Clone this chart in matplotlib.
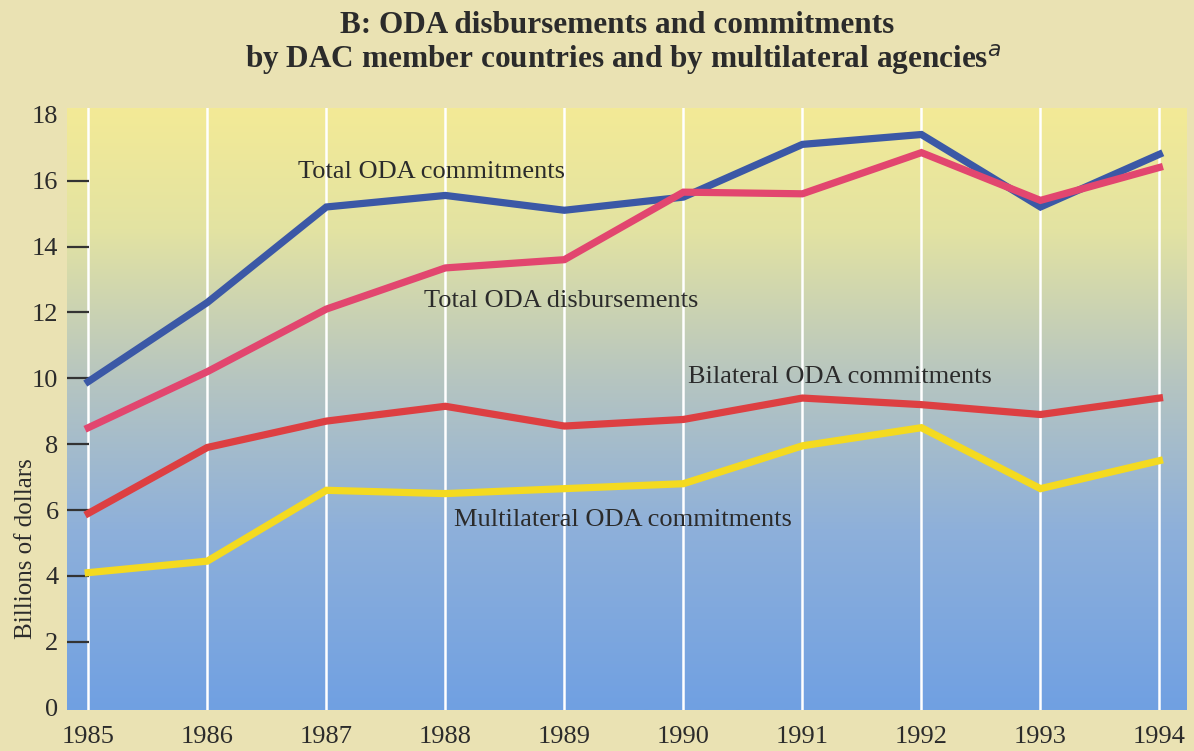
import numpy as np
import matplotlib
matplotlib.use("Agg")
import matplotlib.pyplot as plt
from matplotlib.colors import LinearSegmentedColormap

years = [1985, 1986, 1987, 1988, 1989, 1990, 1991, 1992, 1993, 1994]
total_commit = [9.9, 12.3, 15.2, 15.55, 15.1, 15.5, 17.1, 17.4, 15.2, 16.8]
total_disb = [8.5, 10.2, 12.1, 13.35, 13.6, 15.65, 15.6, 16.85, 15.4, 16.4]
bilateral = [5.9, 7.9, 8.7, 9.15, 8.55, 8.75, 9.4, 9.2, 8.9, 9.4]
multilateral = [4.1, 4.45, 6.6, 6.5, 6.65, 6.8, 7.95, 8.5, 6.65, 7.5]
yticks = [0, 2, 4, 6, 8, 10, 12, 14, 16, 18]

plt.rcParams["font.family"] = ["Liberation Serif", "DejaVu Serif"]
TXT = "#2b2b2b"

fig = plt.figure(figsize=(11.94, 7.51), dpi=100, facecolor="#eae2b3")
ax = fig.add_axes([0.056, 0.055, 0.938, 0.801])
xlim = (1984.82, 1994.23)
ylim = (-0.06, 18.2)

# background gradient: pale yellow top -> grey-green -> blue bottom
cmap = LinearSegmentedColormap.from_list(
    "bg", [(0.0, "#70a0e2"), (0.3, "#8eb0da"), (0.55, "#b6c5c0"),
           (0.8, "#e3e3a2"), (1.0, "#f3ea96")])
grad = np.linspace(0, 1, 256).reshape(-1, 1)
ax.imshow(grad, aspect="auto", cmap=cmap, origin="lower",
          extent=[xlim[0], xlim[1], ylim[0], ylim[1]], zorder=0)

for y in years:
    ax.axvline(y, color="white", lw=1.8, zorder=1)

lw = 5.2
ax.plot(years, total_commit, color="#3b58a6", lw=lw, zorder=3, solid_joinstyle="miter")
ax.plot(years, total_disb, color="#e2466f", lw=lw, zorder=4, solid_joinstyle="miter")
ax.plot(years, bilateral, color="#dd3f42", lw=lw, zorder=3, solid_joinstyle="miter")
ax.plot(years, multilateral, color="#f4da20", lw=lw, zorder=3, solid_joinstyle="miter")

fs = 19
ax.text(1986.76, 16.25, "Total ODA commitments", fontsize=fs, color=TXT, va="center", zorder=5)
ax.text(1987.82, 12.35, "Total ODA disbursements", fontsize=fs, color=TXT, va="center", zorder=5)
ax.text(1990.04, 10.05, "Bilateral ODA commitments", fontsize=fs, color=TXT, va="center", zorder=5)
ax.text(1988.07, 5.7, "Multilateral ODA commitments", fontsize=fs, color=TXT, va="center", zorder=5)

ax.set_xlim(xlim)
ax.set_ylim(ylim)
for s in ax.spines.values():
    s.set_visible(False)

ax.set_yticks(yticks)
ax.set_yticklabels([str(v) for v in yticks])
ax.tick_params(axis="y", direction="in", length=16, width=1.6, color="#333333",
               labelsize=19, labelcolor=TXT, pad=6)
for t in (ax.yaxis.get_major_ticks()[0], ax.yaxis.get_major_ticks()[-1]):
    t.tick1line.set_visible(False)
ax.set_xticks(years)
ax.set_xticklabels([str(y) for y in years])
ax.tick_params(axis="x", length=0, labelsize=19, labelcolor=TXT, pad=12)

fig.text(0.022, 0.27, "Billions of dollars", rotation=90, fontsize=18, color=TXT,
         ha="center", va="center")

fig.text(0.517, 0.966, "B: ODA disbursements and commitments", fontsize=22.5,
         fontweight="bold", color=TXT, ha="center", va="center")
fig.text(0.522, 0.921, "by DAC member countries and by multilateral agencies$^{\\mathit{a}}$",
         fontsize=22.5, fontweight="bold", color=TXT, ha="center", va="center")

fig.savefig("out.png", dpi=100, facecolor=fig.get_facecolor())
